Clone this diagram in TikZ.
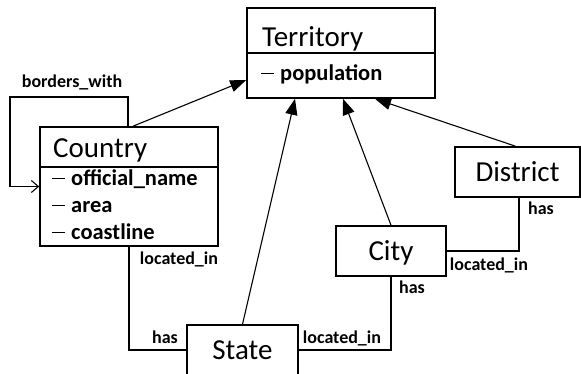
\documentclass[tikz,border=0pt]{standalone}
\usepackage{fontspec}
\setmainfont{Carlito}
\usetikzlibrary{arrows.meta}

\newcommand{\attrdash}{\rule[0.28em]{13pt}{1.2pt}\hspace{6pt}}

\tikzset{
  classbox/.style={draw, line width=1.6pt, inner sep=0pt},
  titlefont/.style={font=\fontsize{29}{32}\selectfont},
  attrtext/.style={font=\bfseries\fontsize{22.5}{24}\selectfont, anchor=base west, inner sep=0pt},
  rolelabel/.style={font=\bfseries\fontsize{18}{20}\selectfont, anchor=base, inner sep=0pt},
  link/.style={line width=1.1pt},
  isa/.style={link, -{Triangle[length=16pt,width=12pt]}},
}

\begin{document}
\begin{tikzpicture}[x=1pt,y=-1pt]
        \useasboundingbox (0,0) rectangle (581,373);
        % Territory
        \node[classbox, minimum width=188, minimum height=90] (territory) at (341,53) {};
        \draw[line width=1.2pt] (territory.west) -- (territory.east);
        \node[titlefont, anchor=base west, inner sep=0pt] (territorytitle) at (262,46) {Territory};
        \node[attrtext] (population) at (261,80) {\attrdash population};
        % Country
        \node[classbox, minimum width=178, minimum height=119] (country) at (129,186.5) {};
        \draw[line width=1.2pt] (country.west |- 0,167) -- (country.east |- 0,167);
        \node[titlefont, anchor=base west, inner sep=0pt] (countrytitle) at (53,157) {Country};
        \node[attrtext] (officialname) at (52,185) {\attrdash official\_name};
        \node[attrtext] (area) at (52,212) {\attrdash area};
        \node[attrtext] (coastline) at (52,239) {\attrdash coastline};
        % District, City, State
        \node[classbox, titlefont, minimum width=125, minimum height=50, text height=19pt, text depth=0pt] (district) at (517.5,172) {District};
        \node[classbox, titlefont, minimum width=110, minimum height=50, text height=19pt, text depth=0pt] (city) at (391,251) {City};
        \node[classbox, titlefont, minimum width=111, minimum height=50, text height=19pt, text depth=0pt] (state) at (242.5,350) {State};
        % generalisation
        \draw[isa] ([xshift=4]country.north) -- ([yshift=-27]territory.west);
        \draw[isa] (state.north) -- ([xshift=-46]territory.south);
        \draw[isa] (city.north) -- ([xshift=2]territory.south);
        \draw[isa] ([xshift=-2]district.north) -- ([xshift=34]territory.south);
        % associations
        \coordinate (loopcorner) at (10,97);
        \draw[link, -{Straight Barb[length=7pt,width=12pt]}] ([xshift=-1]country.north) |- (loopcorner) |- (country.west);
        \draw[link] (country.south) |- (state.west);
        \draw[link] (city.south) |- (state.east);
        \draw[link] ([xshift=1.5]district.south) |- (city.east);
        % role names
        \node[rolelabel] (borderslabel) at (72,87) {borders\_with};
        \node[rolelabel] (countryloc) at (179,264) {located\_in};
        \node[rolelabel] (statehas) at (165,343) {has};
        \node[rolelabel] (stateloc) at (342,343) {located\_in};
        \node[rolelabel] (cityhas) at (412,293) {has};
        \node[rolelabel] (cityloc) at (489,270) {located\_in};
        \node[rolelabel] (districthas) at (541,214) {has};
\end{tikzpicture}
\end{document}
